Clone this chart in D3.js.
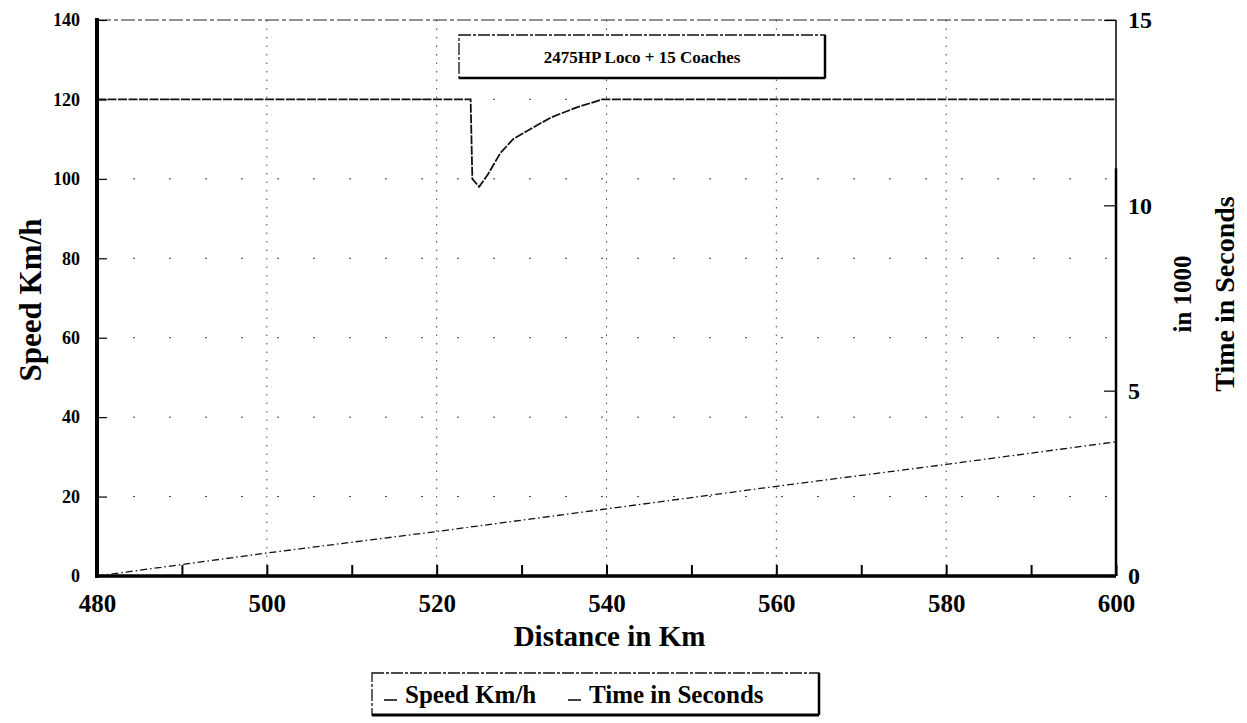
<!DOCTYPE html>
<html>
<head>
<meta charset="utf-8">
<script src="https://cdn.jsdelivr.net/npm/d3@7"></script>
<style>
    body { margin: 0; background: #fff; }
    svg text { font-family: 'Liberation Serif', 'Times New Roman', serif; font-weight: bold; fill: #000; }
    .axis .domain { display: none; }
    .axis line { stroke: #000; }
</style>
</head>
<body>
<div id="chart"></div>
<script>
// speed curve (km, km/h)
const speedDistance = [480, 524, 524.2, 525, 526, 527.5, 529, 531, 533.5, 536.5, 539.5, 600];
const speedValues = [120, 120, 100, 98, 101, 106.5, 110, 112.5, 115.5, 118, 120, 120];

// elapsed time curve (km, seconds in 1000)
const timeDistance = [480, 500, 520, 540, 560, 580, 600];
const timeValues = [0, 0.62, 1.2, 1.81, 2.42, 3.01, 3.62];

const xTicks = [480, 490, 500, 510, 520, 530, 540, 550, 560, 570, 580, 590, 600];
const speedTicks = [0, 20, 40, 60, 80, 100, 120, 140];
const timeTicks = [0, 5, 10, 15];

const legendLabels = ['Speed Km/h', 'Time in Seconds'];
const chartTitle = '2475HP Loco + 15 Coaches';

class SpeedTimeChart {
    constructor(_config) {
        this.config = {
            parentElement: _config.parentElement,
            containerWidth: _config.containerWidth || 1247,
            containerHeight: _config.containerHeight || 723,
            margin: _config.margin || { top: 20, right: 131, bottom: 147, left: 97 }
        }
        this.initVis();
    }

    initVis() {
        let vis = this;

        vis.width = vis.config.containerWidth - vis.config.margin.left - vis.config.margin.right;
        vis.height = vis.config.containerHeight - vis.config.margin.top - vis.config.margin.bottom;

        vis.svg = d3.select(vis.config.parentElement).append('svg')
            .attr('width', vis.config.containerWidth)
            .attr('height', vis.config.containerHeight);

        vis.xScale = d3.scaleLinear().domain([480, 600]).range([0, vis.width]);
        vis.yScale = d3.scaleLinear().domain([0, 140]).range([vis.height, 0]);
        vis.y2Scale = d3.scaleLinear().domain([0, 15]).range([vis.height, 0]);

        vis.chart = vis.svg.append('g')
            .attr('transform', `translate(${vis.config.margin.left},${vis.config.margin.top})`);
    }

    renderVis() {
        let vis = this;

        // sparse dotted grid
        vis.chart.append('g').selectAll('line')
            .data(xTicks.filter(d => d % 20 === 0 && d > 480 && d < 600))
            .join('line')
            .attr('x1', d => vis.xScale(d)).attr('x2', d => vis.xScale(d))
            .attr('y1', 0).attr('y2', vis.height)
            .attr('stroke', '#444').attr('stroke-width', 1)
            .attr('stroke-dasharray', '1.5,7');

        vis.chart.append('g').selectAll('line')
            .data(speedTicks.filter(d => d > 0 && d < 140))
            .join('line')
            .attr('x1', 0).attr('x2', vis.width)
            .attr('y1', d => vis.yScale(d)).attr('y2', d => vis.yScale(d))
            .attr('stroke', '#444').attr('stroke-width', 1)
            .attr('stroke-dasharray', '2,34');

        // top frame
        vis.chart.append('line')
            .attr('x1', 0).attr('x2', vis.width).attr('y1', 0).attr('y2', 0)
            .attr('stroke', '#222').attr('stroke-width', 1.2)
            .attr('stroke-dasharray', '14,3,4,3');

        // lines
        const speedLine = d3.line()
            .x((d, i) => vis.xScale(speedDistance[i]))
            .y(d => vis.yScale(d));
        vis.chart.append('path')
            .datum(speedValues)
            .attr('d', speedLine)
            .attr('fill', 'none').attr('stroke', '#111').attr('stroke-width', 1.8)
            .attr('stroke-dasharray', '9,1.5');

        const timeLine = d3.line()
            .x((d, i) => vis.xScale(timeDistance[i]))
            .y(d => vis.y2Scale(d));
        vis.chart.append('path')
            .datum(timeValues)
            .attr('d', timeLine)
            .attr('fill', 'none').attr('stroke', '#111').attr('stroke-width', 1.3)
            .attr('stroke-dasharray', '7,3,1.5,3');

        // axes
        vis.xAxisG = vis.chart.append('g')
            .attr('class', 'axis x-axis')
            .attr('transform', `translate(0,${vis.height})`)
            .call(d3.axisBottom(vis.xScale)
                .tickValues(xTicks)
                .tickSize(-11)
                .tickPadding(18)
                .tickFormat(d => d % 20 === 0 ? d : ''));
        vis.xAxisG.selectAll('line').attr('stroke-width', 2);
        vis.xAxisG.selectAll('text').style('font-size', '25px');

        vis.yAxisG = vis.chart.append('g')
            .attr('class', 'axis y-axis')
            .call(d3.axisLeft(vis.yScale)
                .tickValues(speedTicks)
                .tickSize(-14)
                .tickPadding(17));
        vis.yAxisG.selectAll('line').attr('stroke-width', 1.2).attr('stroke-dasharray', '10,8');
        vis.yAxisG.selectAll('text').style('font-size', '18px');

        vis.y2AxisG = vis.chart.append('g')
            .attr('class', 'axis y2-axis')
            .attr('transform', `translate(${vis.width},0)`)
            .call(d3.axisRight(vis.y2Scale)
                .tickValues(timeTicks)
                .tickSize(-12)
                .tickPadding(12));
        vis.y2AxisG.selectAll('line').attr('stroke-width', 1.2);
        vis.y2AxisG.selectAll('text').style('font-size', '24px');

        // heavy frame lines
        vis.chart.append('line')
            .attr('x1', 0).attr('x2', 0).attr('y1', -2).attr('y2', vis.height + 2)
            .attr('stroke', '#000').attr('stroke-width', 4);
        vis.chart.append('line')
            .attr('x1', 0).attr('x2', vis.width).attr('y1', vis.height).attr('y2', vis.height)
            .attr('stroke', '#000').attr('stroke-width', 3.5);
        vis.chart.append('line')
            .attr('x1', vis.width).attr('x2', vis.width).attr('y1', 0).attr('y2', vis.height)
            .attr('stroke', '#000').attr('stroke-width', 1.5);
        vis.chart.append('line')
            .attr('x1', vis.width).attr('x2', vis.width).attr('y1', vis.y2Scale(11)).attr('y2', vis.height)
            .attr('stroke', '#000').attr('stroke-width', 2.5);

        // axis titles
        vis.svg.append('text')
            .attr('transform', `translate(41,${vis.config.margin.top + vis.height / 2 + 2}) rotate(-90)`)
            .attr('text-anchor', 'middle')
            .style('font-size', '31px')
            .text('Speed Km/h');

        vis.svg.append('text')
            .attr('transform', `translate(1191,${vis.config.margin.top + vis.height / 2 - 4}) rotate(-90)`)
            .attr('text-anchor', 'middle')
            .style('font-size', '25px')
            .text('in 1000');

        vis.svg.append('text')
            .attr('transform', `translate(1234,${vis.config.margin.top + vis.height / 2 - 4}) rotate(-90)`)
            .attr('text-anchor', 'middle')
            .style('font-size', '28px')
            .text('Time in Seconds');

        vis.svg.append('text')
            .attr('x', vis.config.margin.left + vis.xScale(540) + 3)
            .attr('y', 646)
            .attr('text-anchor', 'middle')
            .style('font-size', '29px')
            .text('Distance in Km');

        // title box
        const titleG = vis.svg.append('g').attr('transform', 'translate(459,35)');
        titleG.append('rect')
            .attr('width', 366).attr('height', 43)
            .attr('fill', '#fff').attr('stroke', '#111').attr('stroke-width', 1.3)
            .attr('stroke-dasharray', '12,2,3,2');
        titleG.append('line')
            .attr('x1', 366).attr('x2', 366).attr('y1', 0).attr('y2', 43)
            .attr('stroke', '#000').attr('stroke-width', 2.5);
        titleG.append('line')
            .attr('x1', 0).attr('x2', 366).attr('y1', 43).attr('y2', 43)
            .attr('stroke', '#000').attr('stroke-width', 2.5);
        titleG.append('text')
            .attr('x', 183).attr('y', 28)
            .attr('text-anchor', 'middle')
            .style('font-size', '17px')
            .text(chartTitle);

        // legend box
        const legendG = vis.svg.append('g').attr('transform', 'translate(372,673)');
        legendG.append('rect')
            .attr('width', 447).attr('height', 42)
            .attr('fill', '#fff').attr('stroke', '#111').attr('stroke-width', 1.3)
            .attr('stroke-dasharray', '12,2,3,2');
        legendG.append('line')
            .attr('x1', 447).attr('x2', 447).attr('y1', 0).attr('y2', 42)
            .attr('stroke', '#000').attr('stroke-width', 2.5);
        legendG.append('line')
            .attr('x1', 0).attr('x2', 447).attr('y1', 42).attr('y2', 42)
            .attr('stroke', '#000').attr('stroke-width', 3);

        const legendX = [12, 196];
        legendG.selectAll('.legend-item')
            .data(legendLabels)
            .join(enter => {
                const item = enter.append('g')
                    .attr('class', 'legend-item')
                    .attr('transform', (d, i) => `translate(${legendX[i]},0)`);
                item.append('line')
                    .attr('x1', 0).attr('x2', 13).attr('y1', 27).attr('y2', 27)
                    .attr('stroke', '#000').attr('stroke-width', 1.5);
                item.append('text')
                    .attr('x', 21).attr('y', 30)
                    .style('font-size', '25px')
                    .text(d => d);
                return item;
            });
    }
}

const chart = new SpeedTimeChart({ parentElement: '#chart' });
chart.renderVis();
</script>
</body>
</html>
